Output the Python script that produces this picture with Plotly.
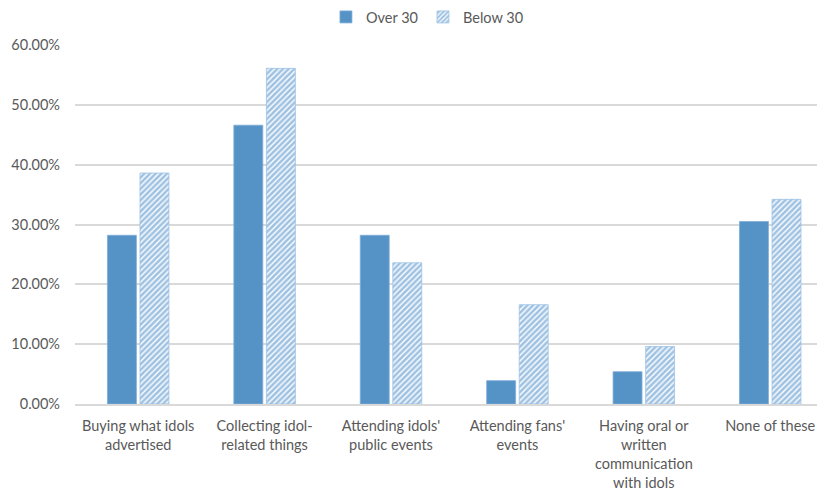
import plotly.graph_objects as go

categories = [
    "Buying what idols<br>advertised",
    "Collecting idol-<br>related things",
    "Attending idols'<br>public events",
    "Attending fans'<br>events",
    "Having oral or<br>written<br>communication<br>with idols",
    "None of these",
]
over_30 = [0.282, 0.466, 0.282, 0.039, 0.054, 0.305]
below_30 = [0.386, 0.561, 0.236, 0.166, 0.096, 0.342]
y_ticks = [0.0, 0.1, 0.2, 0.3, 0.4, 0.5, 0.6]

BLUE = "#5592C6"
FONT = "Lato"
GRAY = "#595959"

fig = go.Figure()
fig.add_trace(go.Bar(
    name="Over 30", x=categories, y=over_30,
    marker=dict(color=BLUE, line=dict(color="#7FAEDB", width=0.8)),
))
fig.add_trace(go.Bar(
    name="Below 30", x=categories, y=below_30,
    marker=dict(color="white",
                line=dict(color="#9DC3E6", width=0.8),
                pattern=dict(shape="/", fgcolor="#3F85C6", bgcolor="white",
                             size=4, solidity=0.65, fillmode="overlay")),
))

fig.update_layout(
    width=817, height=491,
    margin=dict(l=75, r=0, t=45, b=87),
    paper_bgcolor="white", plot_bgcolor="white",
    barmode="group", bargap=0.485, bargroupgap=0.11,
    font=dict(family=FONT, size=14.5, color=GRAY),
    legend=dict(orientation="h", x=0.475, xanchor="center", y=1.078,
                yanchor="middle", yref="paper",
                font=dict(family=FONT, size=14.5, color=GRAY),
                itemwidth=30),
    xaxis=dict(range=[-0.5, 5.37], showgrid=False, showline=True,
               linecolor="#D9D9D9", linewidth=1.5, ticks="",
               ticklabelstandoff=8,
               tickfont=dict(family=FONT, size=14.5, color=GRAY)),
    yaxis=dict(range=[0, 0.6], tickvals=y_ticks, tickformat=".2%",
               showgrid=True, gridcolor="#D9D9D9", gridwidth=1.5,
               zeroline=False, ticks="", ticklabelstandoff=14,
               tickfont=dict(family=FONT, size=14.5, color=GRAY)),
)

fig.write_html("out.html")
